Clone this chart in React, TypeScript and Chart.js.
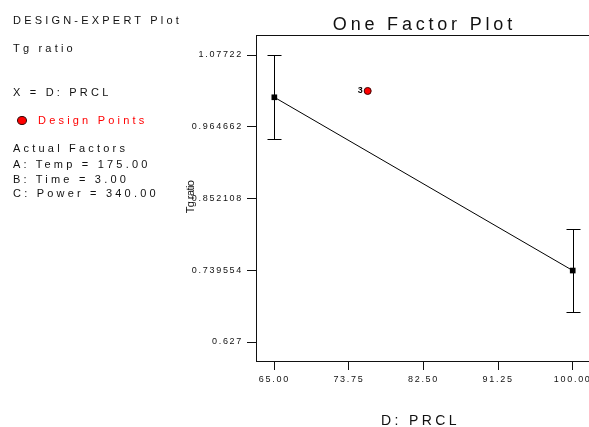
import React, { useEffect, useRef } from 'react';
import { Chart, registerables } from 'chart.js';

Chart.register(...registerables);

const FONT = '"Liberation Sans", Arial, sans-serif';
const AXIS = '#111';
const TEXT = '#111';

// Factor levels (D: PRCL) and predicted Tg ratio
const factorLevels = [65, 100];
const meanValues = [1.0109, 0.7391];
const upperBounds = [1.0772, 0.8038];
const lowerBounds = [0.945, 0.6741];

// Design points
const designX = [75.95];
const designY = [1.0208];
const designLabels = ['3'];

// Axis ticks
const xTickValues = [65, 73.75, 82.5, 91.25, 100];
const xTickLabels = ['65.00', '73.75', '82.50', '91.25', '100.00'];
const yTickValues = [0.627, 0.739554, 0.852108, 0.964662, 1.07722];
const yTickLabels = ['0.627', '0.739554', '0.852108', '0.964662', '1.07722'];

const TITLE = 'One Factor Plot';
const X_TITLE = 'D: PRCL';
const Y_TITLE = 'Tg ratio';

const panelLines = [
  { text: 'DESIGN-EXPERT Plot', cy: 20, color: '#111' },
  { text: 'Tg ratio', cy: 48, color: '#111' },
  { text: 'X = D: PRCL', cy: 92, color: '#111' },
  { text: 'Design Points', cy: 120, color: '#ff0000', x: 38 },
  { text: 'Actual Factors', cy: 148, color: '#111' },
  { text: 'A: Temp = 175.00', cy: 164, color: '#111' },
  { text: 'B: Time = 3.00', cy: 179, color: '#111' },
  { text: 'C: Power = 340.00', cy: 193, color: '#111' },
];

const overlay = {
  id: 'overlay',
  beforeDraw(chart: any) {
    chart.ctx.letterSpacing = '1.7px';
  },
  afterDatasetsDraw(chart: any) {
    const { ctx, scales } = chart;
    const xs = scales.x;
    const ys = scales.y;
    ctx.save();
    ctx.letterSpacing = '0px';
    ctx.strokeStyle = '#000';
    ctx.lineWidth = 1;
    factorLevels.forEach((lv, i) => {
      const px = Math.round(xs.getPixelForValue(lv)) + 0.5;
      const top = Math.round(ys.getPixelForValue(upperBounds[i])) + 0.5;
      const bot = Math.round(ys.getPixelForValue(lowerBounds[i])) + 0.5;
      ctx.beginPath();
      ctx.moveTo(px, top);
      ctx.lineTo(px, bot);
      ctx.moveTo(px - 7, top);
      ctx.lineTo(px + 7, top);
      ctx.moveTo(px - 7, bot);
      ctx.lineTo(px + 7, bot);
      ctx.stroke();
    });
    ctx.fillStyle = '#000';
    ctx.font = `bold 9px ${FONT}`;
    ctx.textAlign = 'right';
    ctx.textBaseline = 'middle';
    designX.forEach((dx, i) => {
      const px = xs.getPixelForValue(dx);
      const py = ys.getPixelForValue(designY[i]);
      ctx.fillText(designLabels[i], px - 5, py);
    });
    ctx.restore();
  },
  afterDraw(chart: any) {
    const { ctx, chartArea } = chart;
    ctx.save();
    ctx.strokeStyle = AXIS;
    ctx.lineWidth = 1;
    ctx.beginPath();
    ctx.moveTo(chartArea.left, Math.round(chartArea.top) + 0.5);
    ctx.lineTo(chartArea.right, Math.round(chartArea.top) + 0.5);
    ctx.stroke();

    ctx.fillStyle = TEXT;
    ctx.textAlign = 'center';
    ctx.textBaseline = 'middle';
    const cx = (chartArea.left + chartArea.right) / 2;
    ctx.font = `18px ${FONT}`;
    ctx.letterSpacing = '3.8px';
    ctx.fillText(TITLE, cx + 1.9, 25);

    ctx.font = `14px ${FONT}`;
    ctx.letterSpacing = '3.4px';
    ctx.fillText(X_TITLE, cx - 2, 421);

    ctx.font = `11px ${FONT}`;
    ctx.letterSpacing = '-0.6px';
    ctx.translate(191, (chartArea.top + chartArea.bottom) / 2 - 1);
    ctx.rotate(-Math.PI / 2);
    ctx.fillText(Y_TITLE, 0, 0);
    ctx.restore();
    ctx.letterSpacing = '0px';
  },
};

export default function App() {
  const ref = useRef<HTMLCanvasElement>(null);

  useEffect(() => {
    const canvas = ref.current;
    if (!canvas) return;
    const chart = new Chart(canvas, {
      type: 'scatter',
      data: {
        datasets: [
          {
            type: 'line',
            label: 'Tg ratio',
            data: factorLevels.map((x, i) => ({ x, y: meanValues[i] })),
            borderColor: '#000',
            borderWidth: 1,
            pointStyle: 'rect',
            pointRadius: 4,
            pointBackgroundColor: '#000',
            pointBorderColor: '#000',
            pointBorderWidth: 0,
            tension: 0,
            fill: false,
          } as any,
          {
            type: 'scatter',
            label: 'Design Points',
            data: designX.map((x, i) => ({ x, y: designY[i] })),
            pointStyle: 'circle',
            pointRadius: 3.5,
            pointBackgroundColor: '#ff0000',
            pointBorderColor: '#400000',
            pointBorderWidth: 1,
          } as any,
        ],
      },
      options: {
        responsive: false,
        animation: false,
        events: [],
        layout: { autoPadding: false, padding: { left: 180, top: 35, right: 0, bottom: 0 } },
        plugins: {
          legend: { display: false },
          tooltip: { enabled: false },
          title: { display: false },
        },
        scales: {
          x: {
            type: 'linear',
            position: 'bottom',
            min: 62.85,
            max: 101.91,
            afterBuildTicks: (s: any) => {
              s.ticks = xTickValues.map((v) => ({ value: v }));
            },
            afterFit: (s: any) => {
              s.height = 66;
              s.paddingLeft = 0;
              s.paddingRight = 0;
            },
            grid: {
              display: true,
              drawOnChartArea: false,
              drawTicks: true,
              tickLength: 9,
              color: AXIS,
              lineWidth: 1,
            },
            border: { display: true, color: AXIS, width: 1 },
            ticks: {
              callback: (_v: any, i: number) => xTickLabels[i],
              font: { family: FONT, size: 9 },
              color: TEXT,
              padding: 4,
              maxRotation: 0,
              autoSkip: false,
            },
          },
          y: {
            type: 'linear',
            position: 'left',
            min: 0.5972,
            max: 1.1086,
            afterBuildTicks: (s: any) => {
              s.ticks = yTickValues.map((v) => ({ value: v }));
            },
            afterFit: (s: any) => {
              s.width = 76;
              s.paddingTop = 0;
              s.paddingBottom = 0;
            },
            grid: {
              display: true,
              drawOnChartArea: false,
              drawTicks: true,
              tickLength: 9,
              color: AXIS,
              lineWidth: 1,
            },
            border: { display: true, color: AXIS, width: 1 },
            ticks: {
              callback: (_v: any, i: number) => yTickLabels[i],
              font: { family: FONT, size: 9 },
              color: TEXT,
              padding: 4,
              autoSkip: false,
            },
          },
        },
      },
      plugins: [overlay],
    });
    return () => chart.destroy();
  }, []);

  return (
    <div
      style={{
        position: 'absolute',
        left: 0,
        top: 0,
        width: 589,
        height: 427,
        background: '#fff',
        overflow: 'hidden',
      }}
    >
      <canvas
        ref={ref}
        width={589}
        height={427}
        style={{ position: 'absolute', left: 0, top: 0, width: 589, height: 427 }}
      />
      <span
        style={{
          position: 'absolute',
          left: 17,
          top: 116,
          width: 8,
          height: 7,
          borderRadius: '50%',
          background: '#ff0000',
          border: '1px solid #300',
        }}
      />
      {panelLines.map((l) => (
        <div
          key={l.text}
          style={{
            position: 'absolute',
            left: l.x ?? 13,
            top: l.cy - 5.5,
            fontFamily: FONT,
            fontSize: 11,
            lineHeight: '11px',
            letterSpacing: '3.2px',
            color: l.color,
            whiteSpace: 'nowrap',
          }}
        >
          {l.text}
        </div>
      ))}
    </div>
  );
}
